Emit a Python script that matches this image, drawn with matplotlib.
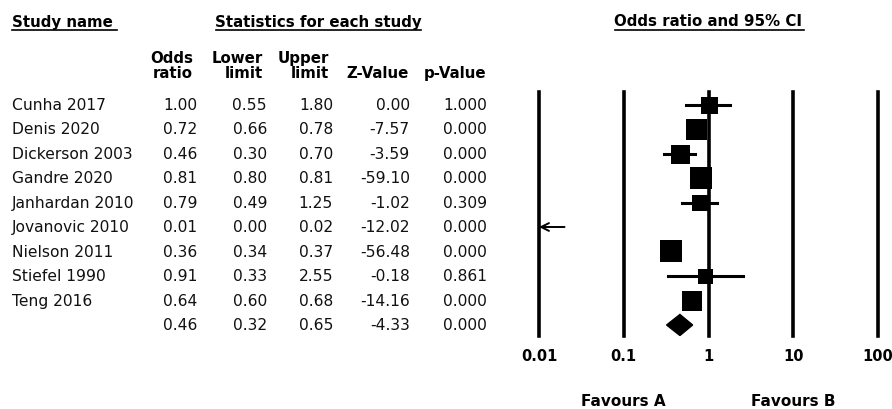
import matplotlib
matplotlib.use("Agg")
import matplotlib.pyplot as plt
import matplotlib.transforms as mtransforms
from matplotlib.patches import Polygon

plt.rcParams['font.family'] = ['DejaVu Sans']

# study data
studies = ['Cunha 2017', 'Denis 2020', 'Dickerson 2003', 'Gandre 2020', 'Janhardan 2010',
           'Jovanovic 2010', 'Nielson 2011', 'Stiefel 1990', 'Teng 2016']
odds = [1.00, 0.72, 0.46, 0.81, 0.79, 0.01, 0.36, 0.91, 0.64]
lower = [0.55, 0.66, 0.30, 0.80, 0.49, 0.00, 0.34, 0.33, 0.60]
upper = [1.80, 0.78, 0.70, 0.81, 1.25, 0.02, 0.37, 2.55, 0.68]
z_vals = [0.00, -7.57, -3.59, -59.10, -1.02, -12.02, -56.48, -0.18, -14.16]
p_vals = [1.000, 0.000, 0.000, 0.000, 0.309, 0.000, 0.000, 0.861, 0.000]
# relative study weights (box size)
weights = [17, 21, 19, 22, 16, 0, 22, 15, 20]

pooled = dict(odds=0.46, lower=0.32, upper=0.65, z=-4.33, p=0.000)

axis_ticks = [0.01, 0.1, 1, 10, 100]
axis_labels = ['0.01', '0.1', '1', '10', '100']

W, H = 892, 410
fig = plt.figure(figsize=(W / 100, H / 100), dpi=100)

# forest plot axes (pixel layout from the reference)
row0, row_h = 105.5, 24.5
top_px, bot_px = 93, 337
ax = fig.add_axes([539 / W, 1 - bot_px / H, (878 - 539) / W, (bot_px - top_px) / H])
ax.set_xscale('log')
ax.set_xlim(0.01, 100)
ax.set_ylim((bot_px - row0) / row_h, (top_px - row0) / row_h)
ax.axis('off')

for t in axis_ticks:
    ax.axvline(t, color='black', lw=2.6, clip_on=False, zorder=1)

lo_lim = 0.01
for i in range(len(studies)):
    if odds[i] <= lo_lim:
        ax.annotate('', xy=(lo_lim, i), xytext=(upper[i], i),
                    arrowprops=dict(arrowstyle='->', color='black', lw=1.4,
                                    shrinkA=0, shrinkB=0, mutation_scale=14),
                    annotation_clip=False)
        continue
    ax.plot([lower[i], upper[i]], [i, i], color='black', lw=2.2, zorder=2)
    ax.plot(odds[i], i, marker='s', color='black', ms=weights[i] * 0.72,
            mew=0, zorder=3)

k = len(studies)
diamond = Polygon([(pooled['lower'], k), (pooled['odds'], k - 0.43),
                   (pooled['upper'], k), (pooled['odds'], k + 0.43)],
                  closed=True, facecolor='black', edgecolor='black', zorder=3)
ax.add_patch(diamond)

# axis labels under the lines
tr_tick = mtransforms.blended_transform_factory(ax.transData, fig.transFigure)
for t, lab in zip(axis_ticks, axis_labels):
    ax.text(t, 1 - 357 / H, lab, transform=tr_tick, ha='center', va='center',
            fontsize=10.5, fontweight='bold', clip_on=False)
ax.text(0.1, 1 - 402 / H, 'Favours A', transform=tr_tick, ha='center', va='center',
        fontsize=11, fontweight='bold')
ax.text(10, 1 - 402 / H, 'Favours B', transform=tr_tick, ha='center', va='center',
        fontsize=11, fontweight='bold')

# table text, rows aligned to the forest rows
tr_row = mtransforms.blended_transform_factory(fig.transFigure, ax.transData)
fs = 11.2
col_right = [197, 267, 333, 410, 487]
for i in range(len(studies)):
    ax.text(12 / W, i, studies[i], transform=tr_row, ha='left', va='center',
            fontsize=fs, color='#111111')
    vals = [f'{odds[i]:.2f}', f'{lower[i]:.2f}', f'{upper[i]:.2f}',
            f'{z_vals[i]:.2f}', f'{p_vals[i]:.3f}']
    for x, v in zip(col_right, vals):
        ax.text(x / W, i, v, transform=tr_row, ha='right', va='center',
                fontsize=fs, color='#111111')
vals = [f"{pooled['odds']:.2f}", f"{pooled['lower']:.2f}", f"{pooled['upper']:.2f}",
        f"{pooled['z']:.2f}", f"{pooled['p']:.3f}"]
for x, v in zip(col_right, vals):
    ax.text(x / W, k, v, transform=tr_row, ha='right', va='center',
            fontsize=fs, color='#111111')

# headers
hfs = 10.8
def header(x, text, ha, x0, x1):
    fig.text(x / W, 1 - 22 / H, text, ha=ha, va='center', fontsize=hfs, fontweight='bold')
    fig.add_artist(plt.Line2D([x0 / W, x1 / W], [1 - 31 / H, 1 - 31 / H],
                              color='black', lw=1.2))

header(12, 'Study name', 'left', 12, 117)
header(318, 'Statistics for each study', 'center', 216, 421)
header(708, 'Odds ratio and 95% CI', 'center', 615, 804)

col_heads = ['Odds\nratio', 'Lower\nlimit', 'Upper\nlimit', 'Z-Value', 'p-Value']
for x, h in zip(col_right, col_heads):
    x_h = x - 4 if '\n' in h else x - 1
    fig.text(x_h / W, 1 - 81 / H, h, ha='right', va='bottom', fontsize=hfs,
             fontweight='bold', multialignment='right', linespacing=1.0)

fig.savefig('out.png', dpi=100, facecolor='white')
